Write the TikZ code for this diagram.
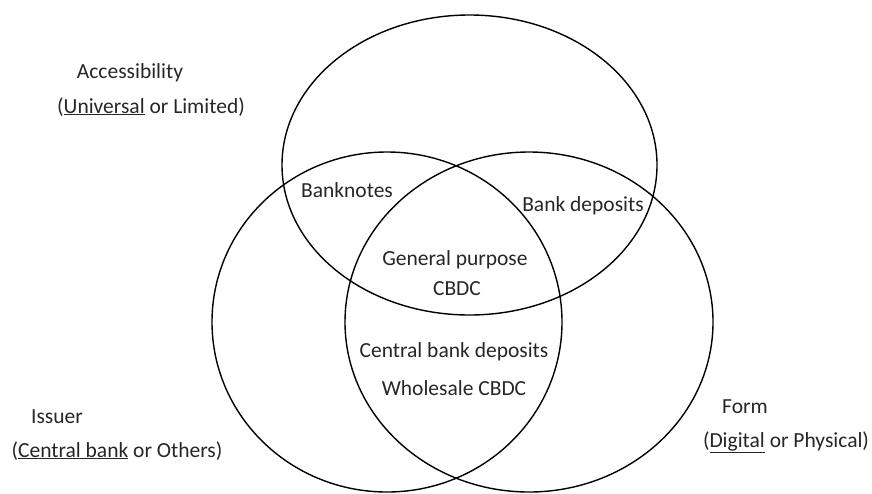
\documentclass[tikz,border=0pt]{standalone}
\usepackage{fontspec}
\setmainfont{Carlito}
\begin{document}
\begin{tikzpicture}[x=1pt,y=-1pt,
  venn/.style={draw=black,line width=1.4pt},
  lbl/.style={anchor=base,inner sep=0pt,font=\fontsize{21.5}{26}\selectfont,text=black!85}]
\useasboundingbox (0,0) rectangle (872,493);
\clip (0,0) rectangle (872,493);
% ellipses
\draw[venn] (469.5,165) ellipse [x radius=187.5, y radius=150];
\draw[venn] (387,322) ellipse [x radius=175, y radius=170];
\draw[venn] (529,322) ellipse [x radius=184, y radius=170];
% outside labels
\node[lbl] (acc) at (130,78) {Accessibility};
\node[lbl] (accopt) at (151,113) {(\underline{Universal} or Limited)};
\node[lbl] (iss) at (57,423) {Issuer};
\node[lbl] (issopt) at (117,457) {(\underline{Central bank} or Others)};
\node[lbl] (form) at (745,413) {Form};
\node[lbl] (formopt) at (786,447) {(\underline{Digital} or Physical)};
% region labels
\node[lbl] (bn) at (347,197) {Banknotes};
\node[lbl] (bd) at (583,211) {Bank deposits};
\node[lbl] (gp) at (455,265) {General purpose};
\node[lbl] (cbdc) at (457,295) {CBDC};
\node[lbl] (cbd) at (454,357) {Central bank deposits};
\node[lbl] (wc) at (454,395) {Wholesale CBDC};
\end{tikzpicture}
\end{document}
